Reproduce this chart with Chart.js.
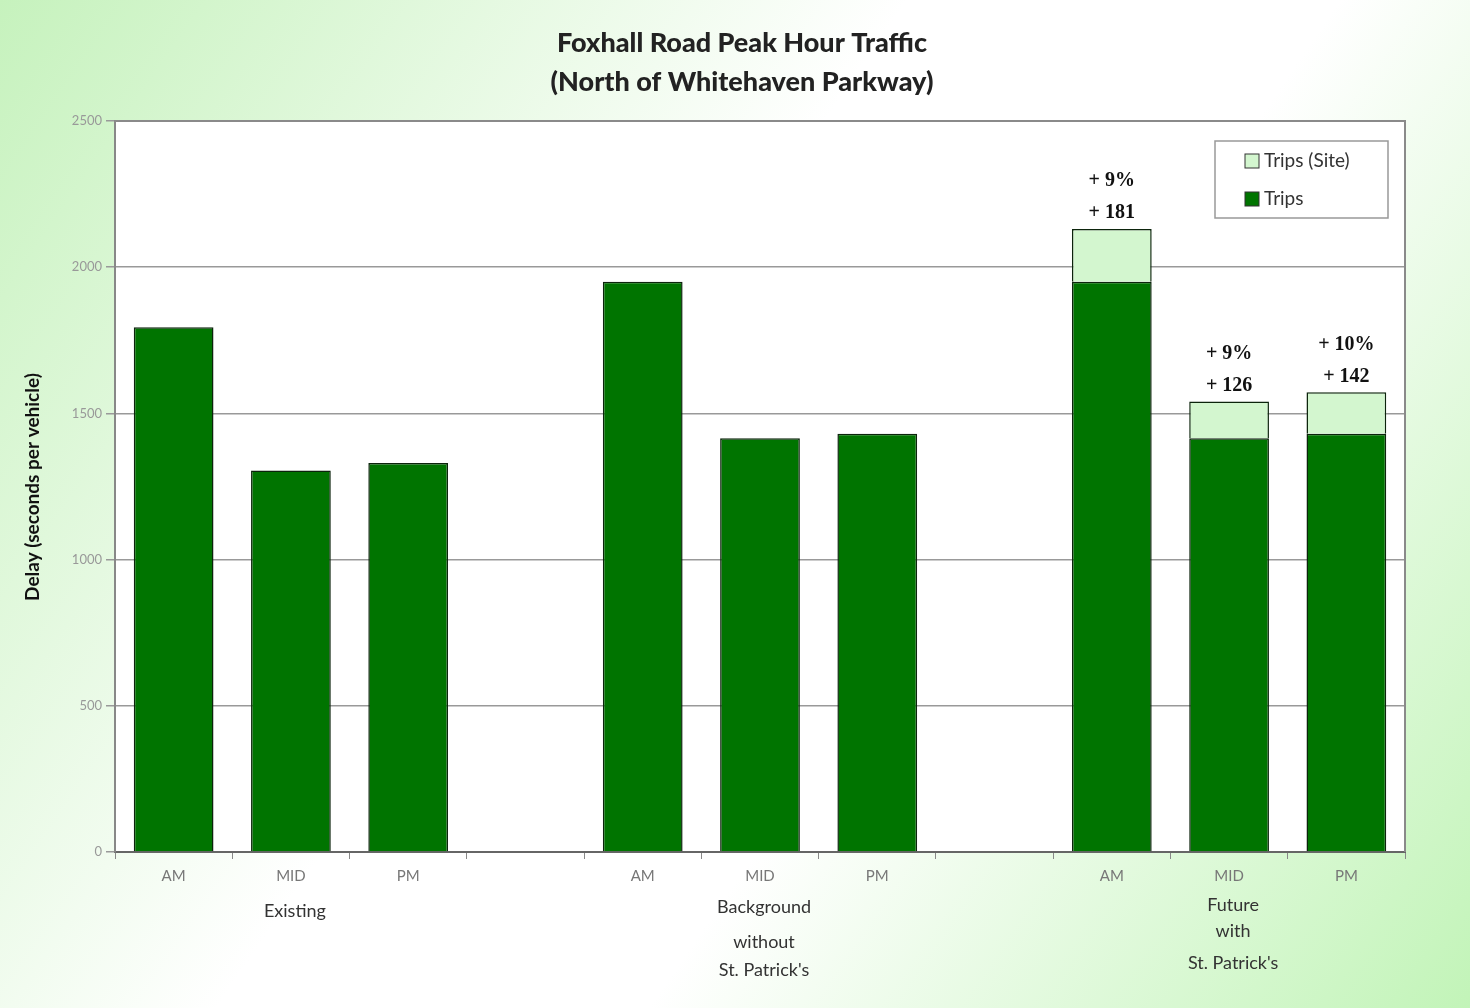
<!DOCTYPE html>
<html>
<head>
<meta charset="utf-8">
<script src="https://cdn.jsdelivr.net/npm/chart.js@4"></script>
<style>
  html, body { margin: 0; padding: 0; background: #fff; }
  #wrap { width: 1470px; height: 1008px; position: relative; }
</style>
</head>
<body>
<div id="wrap"><canvas id="grafico" width="1470" height="1008"></canvas></div>
<script>
// dados
const periodos = ['AM', 'MID', 'PM', '', 'AM', 'MID', 'PM', '', 'AM', 'MID', 'PM'];
const trips = [1795, 1305, 1330, null, 1950, 1415, 1430, null, 1950, 1415, 1430];
const tripsSite = [0, 0, 0, null, 0, 0, 0, null, 181, 126, 142];
const percentuais = ['', '', '', '', '', '', '', '', '+ 9%', '+ 9%', '+ 10%'];
const grupos = [
  { indice: 1, linhas: ['Existing'], y: [911] },
  { indice: 5, linhas: ['Background', 'without', "St. Patrick's"], y: [907, 942, 970] },
  { indice: 9, linhas: ['Future', 'with', "St. Patrick's"], y: [905, 931, 963] }
];
const yTicks = [0, 500, 1000, 1500, 2000, 2500];

const verdeEscuro = '#007400';
const verdeClaro = '#d3f6cf';

const fundoPlugin = {
  id: 'fundo',
  beforeDraw(chart) {
    const { ctx, width, height, chartArea } = chart;
    const g = ctx.createLinearGradient(0, 0, width, height);
    g.addColorStop(0, '#c6f2bd');
    g.addColorStop(0.42, '#ffffff');
    g.addColorStop(0.62, '#ffffff');
    g.addColorStop(1, '#c2f4b8');
    ctx.save();
    ctx.fillStyle = g;
    ctx.fillRect(0, 0, width, height);
    ctx.fillStyle = '#ffffff';
    ctx.fillRect(chartArea.left, chartArea.top, chartArea.right - chartArea.left, chartArea.bottom - chartArea.top);
    ctx.restore();
  },
  afterDraw(chart) {
    const { ctx, chartArea } = chart;
    const xs = chart.scales.x;
    ctx.save();
    // borda
    ctx.strokeStyle = '#8a8a8a';
    ctx.lineWidth = 2;
    ctx.beginPath();
    ctx.moveTo(chartArea.left, chartArea.top);
    ctx.lineTo(chartArea.right, chartArea.top);
    ctx.lineTo(chartArea.right, chartArea.bottom);
    ctx.stroke();

    // título
    ctx.fillStyle = '#222';
    ctx.textAlign = 'center';
    ctx.textBaseline = 'middle';
    ctx.font = '900 27px Lato, "Open Sans", sans-serif';
    ctx.fillText('Foxhall Road Peak Hour Traffic', 742, 43);
    ctx.fillText('(North of Whitehaven Parkway)', 742, 82);

    // título eixo y
    ctx.save();
    ctx.translate(33, 487);
    ctx.rotate(-Math.PI / 2);
    ctx.font = 'bold 19px Lato, "Open Sans", sans-serif';
    ctx.fillStyle = '#111';
    ctx.fillText('Delay (seconds per vehicle)', 0, 0);
    ctx.restore();

    // grupos
    ctx.font = '18px Lato, "Open Sans", sans-serif';
    ctx.fillStyle = '#333';
    grupos.forEach(gr => {
      const x = xs.getPixelForValue(gr.indice);
      gr.linhas.forEach((t, i) => ctx.fillText(t, x + 4, gr.y[i]));
    });

    // anotações sobre as barras
    const meta = chart.getDatasetMeta(1);
    ctx.font = 'bold 20px "Liberation Serif", serif';
    ctx.fillStyle = '#111';
    tripsSite.forEach((v, i) => {
      if (!v) return;
      const bar = meta.data[i];
      ctx.fillText(percentuais[i], bar.x, bar.y - 48);
      ctx.fillText('+ ' + v, bar.x, bar.y - 16);
    });

    // legenda
    const lx = 1215, ly = 141, lw = 173, lh = 77;
    ctx.fillStyle = '#fff';
    ctx.fillRect(lx, ly, lw, lh);
    ctx.strokeStyle = '#999';
    ctx.lineWidth = 1.5;
    ctx.strokeRect(lx, ly, lw, lh);
    const itens = [
      { texto: chart.data.datasets[1].label, cor: verdeClaro, y: 161 },
      { texto: chart.data.datasets[0].label, cor: verdeEscuro, y: 199 }
    ];
    ctx.textAlign = 'left';
    ctx.font = '19px Lato, "Open Sans", sans-serif';
    itens.forEach(it => {
      ctx.fillStyle = it.cor;
      ctx.fillRect(1245, it.y - 7, 14, 14);
      ctx.strokeStyle = '#333';
      ctx.lineWidth = 1;
      ctx.strokeRect(1245, it.y - 7, 14, 14);
      ctx.fillStyle = '#333';
      ctx.fillText(it.texto, 1264, it.y);
    });
    ctx.restore();
  }
};

const ctx = document.getElementById('grafico');
new Chart(ctx, {
  type: 'bar',
  data: {
    labels: periodos,
    datasets: [
      {
        label: 'Trips',
        data: trips,
        backgroundColor: verdeEscuro,
        borderColor: '#0c240c',
        borderWidth: 1.5,
        categoryPercentage: 1,
        barPercentage: 0.68
      },
      {
        label: 'Trips (Site)',
        data: tripsSite,
        backgroundColor: verdeClaro,
        borderColor: '#0c240c',
        borderWidth: 1.5,
        categoryPercentage: 1,
        barPercentage: 0.68
      }
    ]
  },
  options: {
    responsive: false,
    animation: false,
    layout: { padding: { top: 121, right: 65, bottom: 116, left: 0 } },
    plugins: {
      legend: { display: false },
      title: { display: false },
      tooltip: { enabled: false }
    },
    scales: {
      x: {
        stacked: true,
        grid: { offset: true, drawOnChartArea: false, tickLength: 7, color: '#888', lineWidth: 1 },
        border: { color: '#666', width: 2 },
        ticks: { color: '#777', font: { size: 15, family: 'Lato, "Open Sans", sans-serif' }, padding: 8 },
        afterFit(scale) { scale.height = 40; }
      },
      y: {
        stacked: true,
        min: 0,
        max: 2500,
        afterBuildTicks(scale) { scale.ticks = yTicks.map(v => ({ value: v })); },
        grid: { color: '#999', lineWidth: 1.5, tickLength: 9 },
        border: { color: '#888', width: 2 },
        ticks: {
          color: '#999',
          font: { size: 13, family: 'Lato, "Open Sans", sans-serif' },
          padding: 4,
          callback: v => String(v)
        },
        afterFit(scale) { scale.width = 115; }
      }
    }
  },
  plugins: [fundoPlugin]
});
</script>
</body>
</html>
